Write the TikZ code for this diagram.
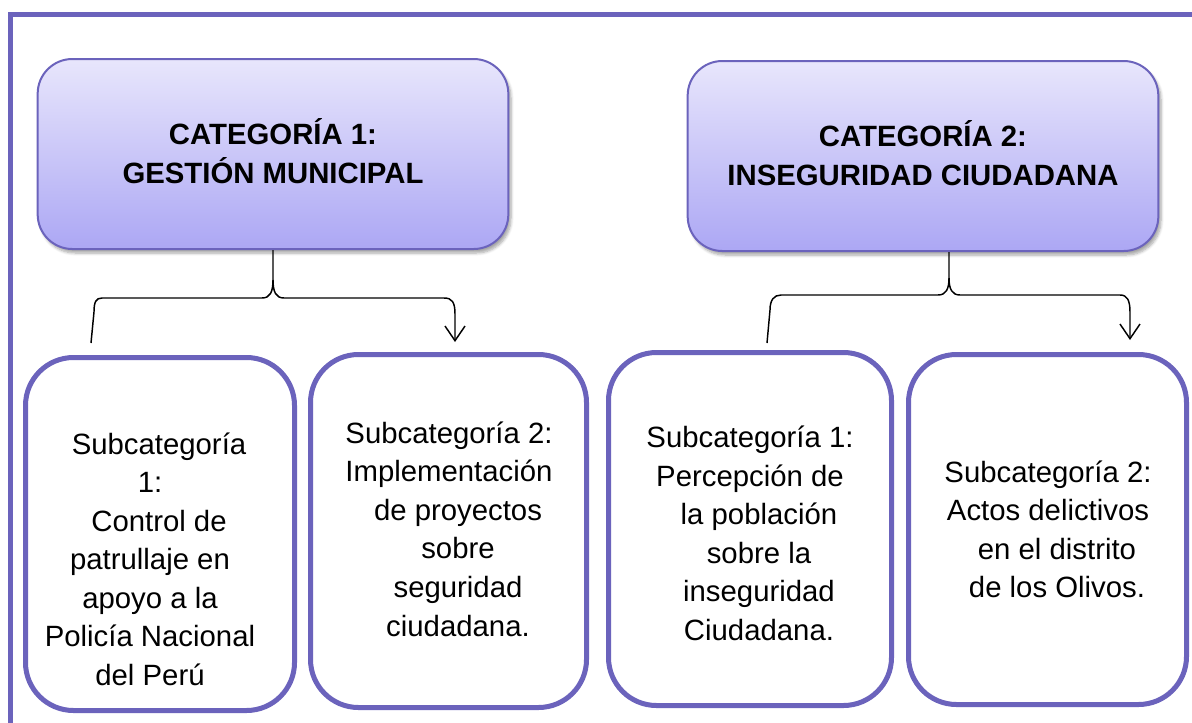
\documentclass[tikz,border=0pt]{standalone}
\usepackage{fontspec}
\setmainfont{Liberation Sans}
\usetikzlibrary{arrows.meta,shadows.blur}
\definecolor{framepurple}{HTML}{6B63BC}
\definecolor{cattop}{HTML}{E8E6FC}
\definecolor{catbot}{HTML}{ACA7F4}
\newcommand{\nudge}{\hspace*{13.5pt}}
\newcommand{\lowpad}{\rule[-5pt]{0pt}{5pt}}
\tikzset{
    catbox/.style={draw=framepurple,line width=1.5pt,rounded corners=26pt,
        top color=cattop,bottom color=catbot,minimum width=353pt,minimum height=142.5pt,
        blur shadow={shadow xshift=2pt,shadow yshift=-3pt,shadow blur steps=6,shadow opacity=35},
        font=\bfseries\fontsize{22}{29.25}\selectfont,align=center},
    subbox/.style={draw=framepurple,line width=3.75pt,rounded corners=36pt,fill=white,
        minimum height=264.75pt},
    subtext/.style={font=\fontsize{22}{28.9}\selectfont,align=center},
    link/.style={line width=1.1pt},
    tip/.style={-{Straight Barb[length=11pt,width=15pt]}}
}
\begin{document}
\begin{tikzpicture}[x=0.75pt,y=-0.75pt]
    \useasboundingbox (0,0) rectangle (1192,722);
    \draw[framepurple,line width=3.75pt] (10.5,740) |- (1210,14.5);

    \node[catbox] (C1) at (273,154) {CATEGORÍA 1:\\GESTIÓN MUNICIPAL\lowpad};
    \node[catbox] (C2) at (923,156) {CATEGORÍA 2:\\INSEGURIDAD CIUDADANA\lowpad};

    \node[subbox,minimum width=201.75pt] (SA) at (160,534) {};
    \node[subbox,minimum width=207pt] (SB) at (448.5,531) {};
    \node[subbox,minimum width=212.25pt] (SC) at (750,529) {};
    \node[subbox,minimum width=208.5pt,minimum height=262.5pt] (SD) at (1047.5,529.5) {};

    \node[subtext] (TA) at (150,559) {\nudge Subcategoría\\1:\\\nudge Control de\\patrullaje en\\apoyo a la\\Policía Nacional\\del Perú};
    \node[subtext] (TB) at (449,529) {Subcategoría 2:\\Implementación\\\nudge de proyectos\\\nudge sobre\\\nudge seguridad\\\nudge ciudadana.};
    \node[subtext] (TC) at (750,533.5) {Subcategoría 1:\\Percepción de\\\nudge la población\\\nudge sobre la\\\nudge inseguridad\\\nudge Ciudadana.};
    \node[subtext] (TD) at (1048,529.5) {Subcategoría 2:\\Actos delictivos\\\nudge en el distrito\\\nudge de los Olivos.};

    \coordinate (K1) at (273,280);
    \coordinate (L1) at (91,343);
    \coordinate (R1) at (455,342);
    \coordinate (K2) at (949,278);
    \coordinate (L2) at (767,343);
    \coordinate (R2) at (1130,340);

    \draw[link] (C1.south) -- (K1) .. controls (273,292) and (270,298) .. (262,298) -- (102,298)
        .. controls (96,298) and (94,302) .. (94,312) -- (L1);
    \draw[link,tip] (K1) .. controls (273,292) and (276,298) .. (284,298) -- (444,298)
        .. controls (452,298) and (455,302) .. (455,314) -- (R1);
    \draw[link] ([xshift=19.5pt]C2.south) -- (K2) .. controls (949,289) and (946,295) .. (938,295) -- (781,295)
        .. controls (774,295) and (770,300) .. (770,310) -- (L2);
    \draw[link,tip] (K2) .. controls (949,289) and (952,295) .. (960,295) -- (1120,295)
        .. controls (1127,295) and (1130,300) .. (1130,312) -- (R2);
\end{tikzpicture}
\end{document}
